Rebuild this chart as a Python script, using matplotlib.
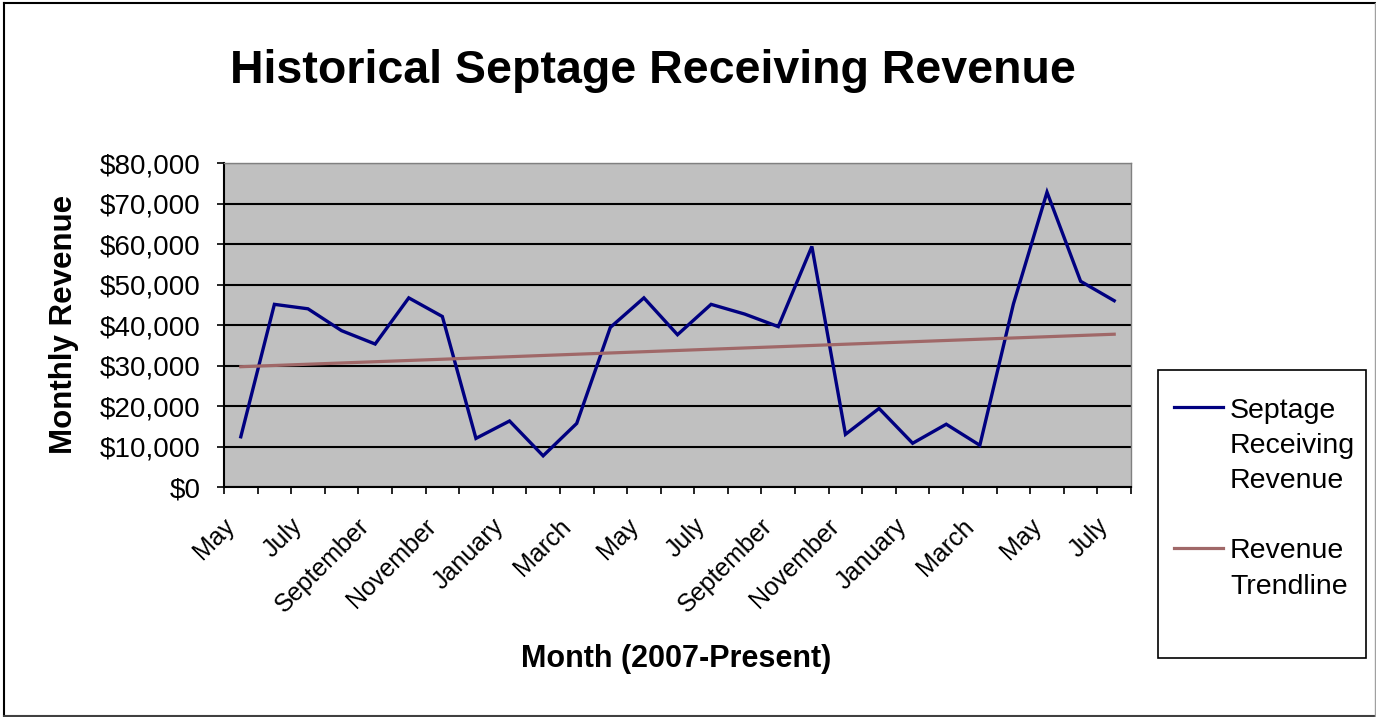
import numpy as np
import matplotlib.pyplot as plt
from matplotlib.lines import Line2D
from matplotlib.patches import Rectangle
from matplotlib.transforms import ScaledTranslation

plt.rcParams['font.family'] = ['Liberation Sans', 'DejaVu Sans']

# Dane: miesiace od maja 2007 do lipca 2009
months = ['May', 'June', 'July', 'August', 'September', 'October', 'November',
          'December', 'January', 'February', 'March', 'April',
          'May', 'June', 'July', 'August', 'September', 'October', 'November',
          'December', 'January', 'February', 'March', 'April',
          'May', 'June', 'July']
revenue = [12400, 45100, 44000, 38600, 35300, 46700, 42100, 12000, 16300, 7700,
           15700, 39400, 46700, 37600, 45100, 42700, 39600, 59400, 13000, 19400,
           10800, 15500, 10300, 45200, 72800, 50800, 46000]
series_label = 'Septage\nReceiving\nRevenue'
trend_label = 'Revenue\nTrendline'

x = np.arange(len(months))
coef = np.polyfit(x, revenue, 1)
trend = np.polyval(coef, x)

W, H = 1376, 717
fig = plt.figure(figsize=(W / 100, H / 100), dpi=100)
ax = fig.add_axes([224 / W, 1 - 487 / H, (1131 - 224) / W, (487 - 163) / H])
ax.set_facecolor('#C0C0C0')

ax.plot(x, revenue, color='#000080', lw=2.4, solid_joinstyle='miter', zorder=3)
ax.plot(x, trend, color='#A06868', lw=2.3, zorder=3)

ax.set_xlim(-0.5, len(months) - 0.5)
ax.set_ylim(0, 80000)
ax.set_yticks(np.arange(0, 80001, 10000))
ax.set_yticklabels(['${:,.0f}'.format(v) for v in np.arange(0, 80001, 10000)])
ax.yaxis.grid(True, color='black', lw=1.5)
ax.set_axisbelow(True)

# kreski na granicach kategorii, etykiety co drugi miesiac
ax.set_xticks(np.arange(-0.5, len(months), 1))
ax.set_xticklabels([])
ax.set_xticks(x[::2], [months[i] for i in x[::2]], minor=True)
ax.tick_params(axis='x', which='major', length=5, width=1.2, direction='out')
ax.tick_params(axis='x', which='minor', length=0, pad=18, labelsize=18)
ax.tick_params(axis='y', length=5, width=1.2, direction='out', pad=12, labelsize=20)
offset = ScaledTranslation(-0.18, -0.02, fig.dpi_scale_trans)
for lab in ax.get_xticklabels(minor=True):
    lab.set_rotation(45)
    lab.set_ha('right')
    lab.set_va('top')
    lab.set_rotation_mode('anchor')
    lab.set_transform(lab.get_transform() + offset)

for s in ['left', 'bottom']:
    ax.spines[s].set_color('black')
    ax.spines[s].set_linewidth(1.5)
for s in ['top', 'right']:
    ax.spines[s].set_color('#808080')
    ax.spines[s].set_linewidth(1.0)

fig.text(653 / W, 1 - 83 / H, 'Historical Septage Receiving Revenue',
         ha='center', va='baseline', fontsize=33.5, fontweight='bold')
fig.text(676 / W, 1 - 667 / H, 'Month (2007-Present)',
         ha='center', va='baseline', fontsize=22, fontweight='bold')
fig.text(64 / W, 1 - 324 / H, 'Monthly Revenue', rotation=90,
         ha='center', va='center', fontsize=22.5, fontweight='bold')

# legenda rysowana recznie, jak w Excelu
fig.add_artist(Rectangle((1158 / W, 1 - 658 / H), (1366 - 1158) / W, (658 - 370) / H,
                         transform=fig.transFigure, facecolor='white',
                         edgecolor='black', lw=1.2))
entries = [(series_label, '#000080', 407), (trend_label, '#A06868', 548)]
for text, col, yline in entries:
    fig.add_artist(Line2D([1174 / W, 1223 / W], [1 - yline / H] * 2,
                          transform=fig.transFigure, color=col, lw=2.3))
    for k, line in enumerate(text.split('\n')):
        fig.text(1230 / W, 1 - (yline + 10.5 + 35.5 * k) / H, line,
                 ha='left', va='baseline', fontsize=20.5)

# ramka wokol calego wykresu
fig.add_artist(Line2D([3.7 / W, 3.7 / W], [1 - 716 / H, 1 - 2.7 / H],
                      transform=fig.transFigure, color='black', lw=1.5))
fig.add_artist(Line2D([3.7 / W, 1374.8 / W], [1 - 2.7 / H] * 2,
                      transform=fig.transFigure, color='black', lw=1.5))
fig.add_artist(Line2D([3.7 / W, 1374.8 / W], [1 - 716 / H] * 2,
                      transform=fig.transFigure, color='#404040', lw=1.5))
fig.add_artist(Line2D([1374.8 / W, 1374.8 / W], [1 - 716 / H, 1 - 2.7 / H],
                      transform=fig.transFigure, color='#A0A0A0', lw=1.0))

fig.savefig('out.png', dpi=100)
